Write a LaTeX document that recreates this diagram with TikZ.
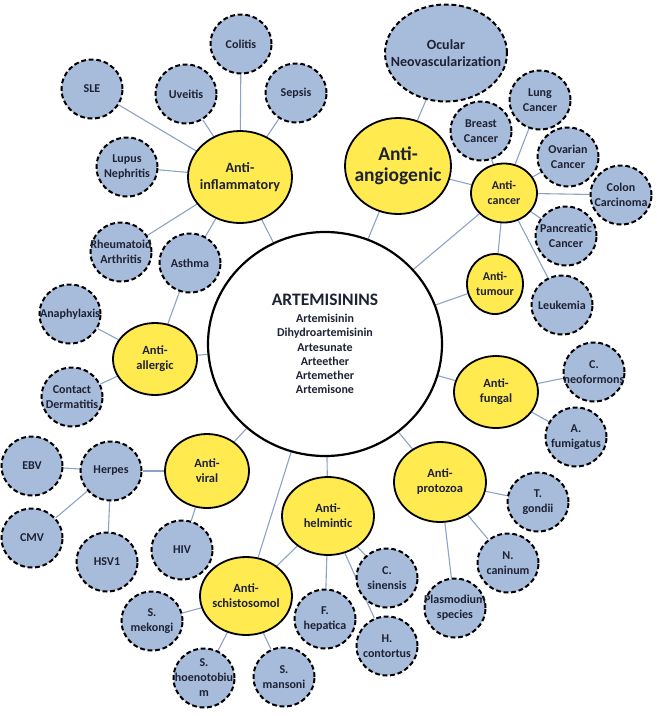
\documentclass[tikz,border=0pt]{standalone}
\usepackage{fontspec}
\setmainfont{Carlito}
\usetikzlibrary{shapes.geometric,backgrounds}
\definecolor{bluefill}{RGB}{167,187,218}
\definecolor{yelfill}{RGB}{255,234,80}
\definecolor{linkcol}{RGB}{140,162,198}
\definecolor{txtcol}{RGB}{30,34,52}
\tikzset{
  lt/.style={align=center,text=txtcol,inner sep=0pt,font=\fontsize{12}{15}\selectfont\bfseries},
  leaf/.style={ellipse,draw=black,fill=bluefill,line width=2pt,dash pattern=on 4.8pt off 2.8pt,
    minimum width=61pt,minimum height=59pt,inner sep=0pt,label={[lt]center:{#1}}},
  bigleaf/.style={ellipse,draw=black,fill=bluefill,line width=2pt,dash pattern=on 4.8pt off 2.8pt,
    minimum width=122pt,minimum height=97pt,inner sep=0pt,
    label={[lt,font=\fontsize{14}{17}\selectfont\bfseries]center:{#1}}},
  hub/.style={ellipse,draw=black,fill=yelfill,line width=1.8pt,inner sep=0pt},
  ht/.style={align=center,text=txtcol,inner sep=0pt,font=\fontsize{12.5}{15}\selectfont\bfseries},
  link/.style={draw=linkcol,line width=1.1pt},
}
\begin{document}
\begin{tikzpicture}[x=1pt,y=-1pt]
\useasboundingbox (0,0) rectangle (657,716);
% center
\node[ellipse,draw=black,fill=white,line width=2.2pt,minimum width=234pt,minimum height=224pt,inner sep=0pt] (C) at (325,344) {};
\node[text=txtcol,font=\fontsize{17.5}{20}\selectfont\bfseries] (T) at (325,300) {ARTEMISININS};
\node[text=txtcol,align=center,font=\fontsize{12}{14.2}\selectfont\bfseries] (L) at (325,354)
 {Artemisinin\\Dihydroartemisinin\\Artesunate\\Arteether\\Artemether\\Artemisone};
% hubs
\node[hub,minimum width=104pt,minimum height=92pt,label={[ht,font=\fontsize{14.2}{17}\selectfont\bfseries]center:{Anti-\\inflammatory}}] (inf) at (240,177) {};
\node[hub,minimum width=106pt,minimum height=96pt,label={[ht,font=\fontsize{19.5}{21}\selectfont\bfseries]center:{Anti-\\angiogenic}}] (ang) at (398,166) {};
\node[hub,minimum width=66pt,minimum height=59pt,label={[ht,font=\fontsize{12}{15}\selectfont\bfseries]center:{Anti-\\cancer}}] (can) at (504,193) {};
\node[hub,minimum width=56pt,minimum height=60pt,label={[ht,font=\fontsize{12}{15}\selectfont\bfseries]center:{Anti-\\tumour}}] (tum) at (495,284) {};
\node[hub,minimum width=84pt,minimum height=72pt,label={[ht]center:{Anti-\\allergic}}] (all) at (155,359) {};
\node[hub,minimum width=84pt,minimum height=74pt,label={[ht]center:{Anti-\\viral}}] (vir) at (207,471) {};
\node[hub,minimum width=84pt,minimum height=72pt,label={[ht]center:{Anti-\\fungal}}] (fun) at (496,392) {};
\node[hub,minimum width=92pt,minimum height=80pt,label={[ht]center:{Anti-\\protozoa}}] (pro) at (440,482) {};
\node[hub,minimum width=92pt,minimum height=78pt,label={[ht]center:{Anti-\\helmintic}}] (hel) at (328,516) {};
\node[hub,minimum width=92pt,minimum height=78pt,label={[ht]center:{Anti-\\schistosomol}}] (sch) at (246,596) {};
% leaves
\node[leaf={Colitis}] (colitis) at (241,44) {};
\node[leaf={SLE}] (sle) at (92,89) {};
\node[leaf={Uveitis}] (uve) at (186,94) {};
\node[leaf={Sepsis}] (sep) at (296,93) {};
\node[leaf={Lupus\\Nephritis}] (lup) at (127,167) {};
\node[leaf={Rheumatoid\\Arthritis}] (rhe) at (121,252) {};
\node[leaf={Asthma}] (ast) at (190,263) {};
\node[bigleaf={Ocular\\Neovascularization}] (ocu) at (446,53) {};
\node[leaf={Lung\\Cancer}] (lung) at (540,100) {};
\node[leaf={Breast\\Cancer}] (bre) at (481,131) {};
\node[leaf={Ovarian\\Cancer}] (ova) at (568,157) {};
\node[leaf={Colon\\Carcinoma}] (col) at (621,195) {};
\node[leaf={Pancreatic\\Cancer}] (pan) at (566,236) {};
\node[leaf={Leukemia}] (leu) at (562,305) {};
\node[leaf={Anaphylaxis}] (ana) at (70,314) {};
\node[leaf={Contact\\Dermatitis}] (con) at (72,397) {};
\node[leaf={EBV}] (ebv) at (32,466) {};
\node[leaf={Herpes}] (her) at (111,471) {};
\node[leaf={CMV}] (cmv) at (32,538) {};
\node[leaf={HSV1}] (hsv) at (107,562) {};
\node[leaf={HIV}] (hiv) at (182,550) {};
\node[leaf={C.\\neoformons}] (neo) at (594,372) {};
\node[leaf={A.\\fumigatus}] (fum) at (576,437) {};
\node[leaf={T.\\gondii}] (ton) at (538,502) {};
\node[leaf={N.\\caninum}] (nca) at (508,563) {};
\node[leaf={Plasmodium\\species}] (pla) at (455,608) {};
\node[leaf={C.\\sinensis}] (csi) at (387,578) {};
\node[leaf={H.\\contortus}] (hco) at (387,646) {};
\node[leaf={F.\\hepatica}] (fhe) at (325,619) {};
\node[leaf={S.\\mekongi}] (sme) at (152,621) {};
\node[leaf={S.\\hoenotobiu\\m}] (sho) at (204,678) {};
\node[leaf={S.\\mansoni}] (sma) at (284,677) {};
% links
\begin{scope}[on background layer]
\foreach \a/\b in {inf/C,ang/C,can/C,tum/C,all/C,vir/C,fun/C,pro/C,hel/C,sch/C,
  inf/colitis,inf/sle,inf/uve,inf/sep,inf/lup,inf/rhe,inf/ast,
  ang/ocu,ang/can,can/bre,can/lung,can/ova,can/col,can/pan,can/leu,can/tum,
  all/ast,all/ana,all/con,vir/her,vir/hiv,her/ebv,her/cmv,her/hsv,
  fun/neo,fun/fum,pro/ton,pro/nca,pro/pla,hel/sch,hel/csi,hel/hco,hel/fhe,
  sch/sme,sch/sho,sch/sma}
  \draw[link] (\a) -- (\b);
\end{scope}
\end{tikzpicture}
\end{document}
